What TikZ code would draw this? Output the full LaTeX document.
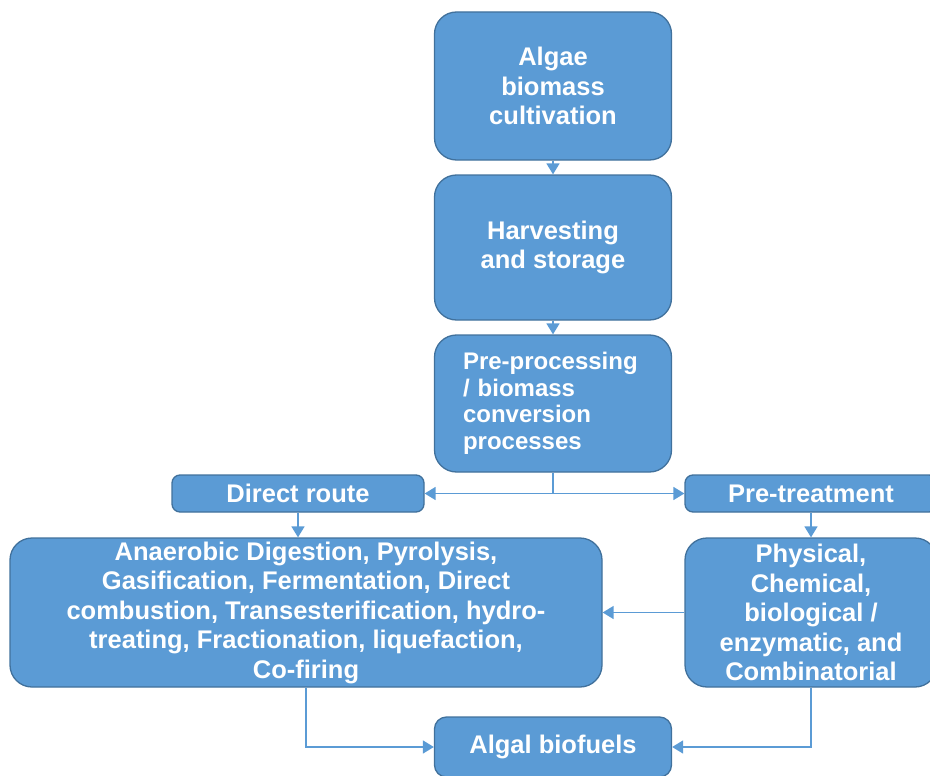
\documentclass[tikz,border=0pt]{standalone}
\usepackage{fontspec}
\setmainfont{Liberation Sans}
\usetikzlibrary{arrows.meta}
\definecolor{boxblue}{HTML}{5B9BD5}
\definecolor{edgeblue}{HTML}{41719C}
\begin{document}
\begin{tikzpicture}[x=1pt, y=-1pt,
    block/.style={draw=edgeblue, line width=1.3pt, fill=boxblue, text=white,
        font=\fontsize{25.5}{29.5}\selectfont\bfseries, align=center,
        rounded corners=22pt, inner sep=0pt},
    slim/.style={block, rounded corners=8pt},
    flow/.style={draw=boxblue, line width=1.6pt, -{Triangle[length=11pt,width=13pt]}}]
    \clip (0,0) rectangle (930,776);

    % Main column
    \node[block, minimum width=237pt, minimum height=148pt] (cultivation) at (553,86)
        {Algae\\biomass\\cultivation};
    \node[block, minimum width=237pt, minimum height=145pt] (harvesting) at (553,247.5)
        {Harvesting\\and storage};
    \node[block, minimum width=237pt, minimum height=137pt, text width=180pt, align=left,
        font=\fontsize{24}{26.5}\selectfont\bfseries] (preprocessing) at (553,403.5)
        {Pre-processing\\/ biomass\\conversion\\processes};

    % Two routes
    \node[slim, minimum width=252pt, minimum height=37pt] (direct) at (298,493.5) {Direct route};
    \node[slim, minimum width=252pt, minimum height=37pt] (pretreatment) at (811,493.5) {Pre-treatment};

    % Process boxes
    \node[block, minimum width=592pt, minimum height=149pt] (processes) at (306,612.5)
        {Anaerobic Digestion, Pyrolysis,\\Gasification, Fermentation, Direct\\combustion, Transesterification, hydro-\\treating, Fractionation, liquefaction,\\Co-firing};
    \node[block, minimum width=252pt, minimum height=149pt] (treatments) at (811,612.5)
        {Physical,\\Chemical,\\biological /\\enzymatic, and\\Combinatorial};

    % Product
    \node[slim, rounded corners=12pt, minimum width=237pt, minimum height=60pt] (biofuels) at (553,747)
        {Algal biofuels};

    % Connectors
    \draw[flow] (cultivation) -- (harvesting);
    \draw[flow] (harvesting) -- (preprocessing);
    \draw[flow] (preprocessing.south) |- (direct.east);
    \draw[flow] (preprocessing.south) |- (pretreatment.west);
    \draw[flow] (direct.south) -- (direct.south |- processes.north);
    \draw[flow] (pretreatment) -- (treatments);
    \draw[flow] (treatments) -- (processes);
    \draw[flow] (processes.south) |- (biofuels.west);
    \draw[flow] (treatments.south) |- (biofuels.east);
\end{tikzpicture}
\end{document}
